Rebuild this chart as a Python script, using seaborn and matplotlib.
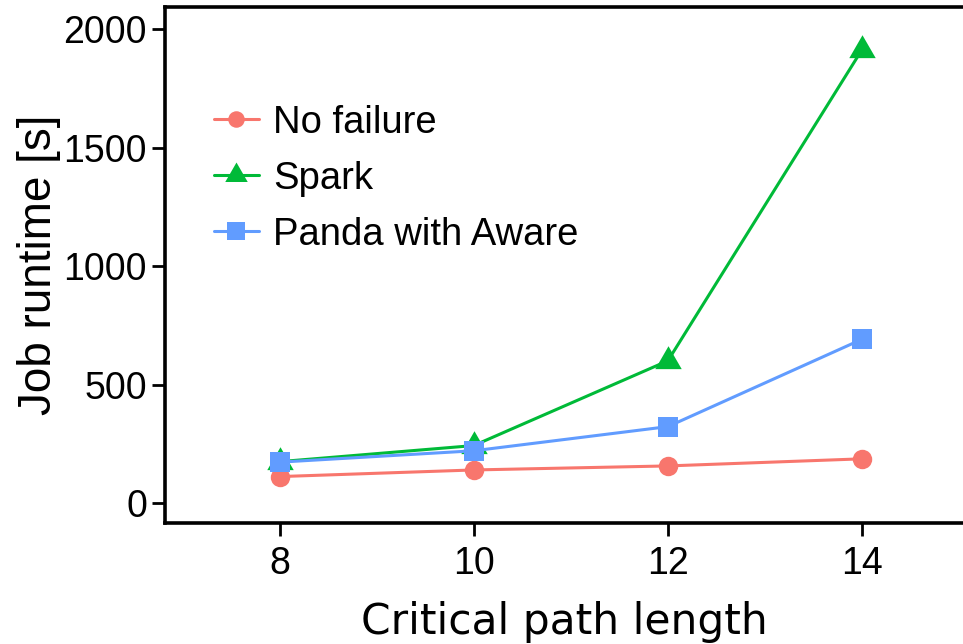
import matplotlib
matplotlib.use("Agg")
import matplotlib.pyplot as plt
import seaborn as sns
import pandas as pd

# Job runtime per critical path length
path_length = [8, 10, 12, 14]
no_failure = [112, 140, 157, 187]
spark = [175, 243, 601, 1915]
panda_aware = [173, 221, 323, 692]

series_names = ["No failure", "Spark", "Panda with Aware"]
series_colors = ["#F8766D", "#00BA38", "#619CFF"]

df = pd.concat([
    pd.DataFrame({"length": path_length, "runtime": no_failure, "series": series_names[0]}),
    pd.DataFrame({"length": path_length, "runtime": spark, "series": series_names[1]}),
    pd.DataFrame({"length": path_length, "runtime": panda_aware, "series": series_names[2]}),
])

sns.set_theme(style="white")
plt.rcParams["font.family"] = ["Liberation Sans", "DejaVu Sans"]
plt.rcParams["text.color"] = "black"
plt.rcParams["axes.labelcolor"] = "black"

fig = plt.figure(figsize=(9.63, 6.44), dpi=100)
ax = fig.add_axes([165 / 963, 1 - 523 / 644, 1 - 165 / 963, (523 - 7) / 644])

# equilateral triangle centred on its centroid
tri = [(0, 1), (-0.866, -0.5), (0.866, -0.5)]
markers = {"No failure": "o", "Spark": tri, "Panda with Aware": "s"}
sizes = {"No failure": 14, "Spark": 22, "Panda with Aware": 15}

for name, color in zip(series_names, series_colors):
    sub = df[df["series"] == name]
    sns.lineplot(data=sub, x="length", y="runtime", ax=ax, color=color,
                 linewidth=2.2, marker=markers[name], markersize=sizes[name],
                 markeredgewidth=0, label=name)

ax.set_xlim(6.82, 15.04)
ax.set_ylim(-84, 2095)
ax.set_xticks(path_length)
ax.set_yticks([0, 500, 1000, 1500, 2000])

for s in ax.spines.values():
    s.set_linewidth(2.6)
    s.set_color("black")
ax.spines["right"].set_visible(False)
ax.tick_params(axis="both", which="major", length=9.5, width=2, color="black",
               labelsize=27, labelcolor="black", direction="out", left=True, bottom=True)
ax.tick_params(axis="x", pad=7)

ax.set_xlabel("Critical path length", fontsize=30.5, family=["DejaVu Sans"], labelpad=14)
ax.set_ylabel("Job runtime [s]", fontsize=33, labelpad=2)

leg = ax.legend(loc="upper left", bbox_to_anchor=(0.042, 0.84), frameon=False,
                fontsize=27.5, handlelength=1.18, handletextpad=0.37, labelspacing=0.52,
                borderaxespad=0)
for h in leg.legend_handles:
    h.set_markersize(h.get_markersize() * 0.85)

fig.savefig("out.png", dpi=100)
